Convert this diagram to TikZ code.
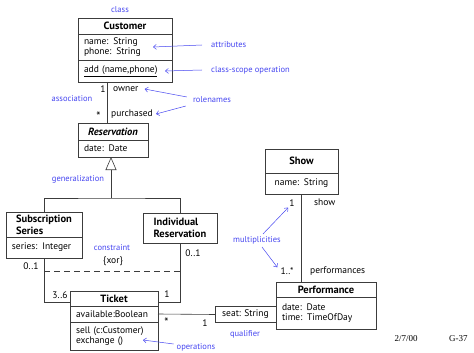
\documentclass[tikz,border=0pt]{standalone}
\usepackage{fontspec}
\setmainfont{PT Sans}
\newfontfamily\datefont{Liberation Serif}
\usetikzlibrary{positioning,arrows.meta,calc}
\definecolor{umlline}{RGB}{60,60,60}
\definecolor{noteblue}{RGB}{70,70,240}
\tikzset{
  cls/.style={outer sep=0pt, align=left, inner sep=0pt, anchor=north west, font=\bfseries\fontsize{10.5}{12}\selectfont},
  cmp/.style={outer sep=0pt, align=left, inner xsep=6pt, inner ysep=0pt, font=\fontsize{9.5}{10.5}\selectfont},
  frame/.style={draw=umlline, line width=0.6pt},
  conn/.style={draw=umlline, line width=0.6pt},
  lbl/.style={inner sep=0pt, font=\fontsize{9.5}{10}\selectfont},
  note/.style={inner sep=0pt, text=noteblue, font=\fontsize{8.5}{10}\selectfont},
  pointer/.style={-{Straight Barb[length=3pt,width=5pt]}, noteblue, line width=0.5pt}
}

\begin{document}
\begin{tikzpicture}[x=1pt, y=-1pt, node distance=0pt]
    \useasboundingbox (0,0) rectangle (474,353);
    % classes
    \node[cls, minimum width=94pt, minimum height=16pt, align=center] (cust) at (78,18) {Customer};
    \node[cmp, text width=82pt, minimum height=26pt, below=of cust] (custattr) {name: String\\phone: String};
    \node[cmp, text width=82pt, minimum height=22pt, below=of custattr] (custop) {\underline{add (name,phone)}};
    \node[cls, minimum width=70pt, minimum height=17pt, align=center] (resv) at (78,123) {\itshape Reservation};
    \node[cmp, text width=58pt, minimum height=17pt, below=of resv] (resvattr) {date: Date};
    \node[cls, minimum width=76pt, minimum height=25pt] (sub) at (6,212) {Subscription\\Series};
    \node[cmp, text width=64pt, minimum height=21pt, below=of sub] (subattr) {series: Integer};
    \node[cls, frame, minimum width=74pt, minimum height=30pt] (indiv) at (143,213) {Individual\\Reservation};
    \node[cls, minimum width=88pt, minimum height=15pt, align=center] (tkt) at (70,291) {Ticket};
    \node[cmp, text width=76pt, minimum height=16pt, below=of tkt] (tktattr) {available:Boolean};
    \node[cmp, text width=76pt, minimum height=28pt, below=of tktattr] (tktop) {sell (c:Customer)\\exchange ()};
    \node[cls, minimum width=73pt, minimum height=24pt, align=center] (show) at (265,149) {Show};
    \node[cmp, text width=61pt, minimum height=21pt, below=of show, align=center] (showattr) {name: String};
    \node[cls, minimum width=100pt, minimum height=15pt, align=center] (perf) at (276,282) {Performance};
    \node[cmp, text width=88pt, minimum height=32pt, below=of perf] (perfattr) {date: Date\\time: TimeOfDay};
    \node[cmp, minimum width=61pt, minimum height=16pt, left=of perfattr.west, anchor=east, yshift=-1.5pt] (qual) {seat: String};
    \draw[frame] (qual.north east) -- (qual.north west) -- (qual.south west) -- (qual.south east);
    % frames and compartment lines
    \foreach \top/\bot in {cust/custop, resv/resvattr, sub/subattr, tkt/tktop, show/showattr, perf/perfattr}
      \draw[frame] (\top.north west) rectangle (\bot.south east);
    \foreach \part in {custattr, custop, resvattr, subattr, tktattr, tktop, showattr, perfattr}
      \draw[frame] (\part.north west) -- (\part.north east);

    % associations
    \draw[conn] ([xshift=-18pt]custop.south) -- ([xshift=-6pt]resv.north);
    \coordinate (fork) at (111,198);
    \draw[conn] (sub.north) |- (fork) -| (indiv.north);
    \draw[conn, -{Triangle[open, length=13pt, width=11pt]}] (fork) -- ([xshift=-2pt]resvattr.south);
    \draw[conn] (subattr.south) |- ([yshift=-4pt]tkt.west);
    \draw[conn] (indiv.south) |- ([yshift=-4pt]tkt.east);
    \draw[conn, dashed, dash pattern=on 6pt off 4pt] ($(subattr.south)+(0,13)$) -- ($(indiv.south)+(0,28)$);
    \draw[conn] (tktattr.east) -- (qual.west);
    \draw[conn] (showattr.south) -- (showattr.south |- perf.north);

    % multiplicities and rolenames
    \node[lbl] (mcust) at (103,89) {1};
    \node[lbl, anchor=west] (owner) at (113,89) {owner};
    \node[lbl, font=\fontsize{12}{12}\selectfont] (mresv) at (98.5,116) {*};
    \node[lbl, anchor=west] (purch) at (111,114) {purchased};
    \node[lbl] (msub) at (31,266) {0..1};
    \node[lbl] (mindiv) at (193,253) {0..1};
    \node[lbl] (mtsub) at (60,295) {3..6};
    \node[lbl] (mtindiv) at (167,294) {1};
    \node[lbl, font=\fontsize{12}{12}\selectfont] (mtkt) at (166.5,322) {*};
    \node[lbl] (mqual) at (205,323) {1};
    \node[lbl] (xor) at (113,261) {\{xor\}};
    \node[lbl] (mshow) at (292,203) {1};
    \node[lbl, anchor=west] (rshow) at (314,202) {show};
    \node[lbl] (mperf) at (287,271) {1..*};
    \node[lbl, anchor=west] (rperf) at (310,271) {performances};

    % annotations
    \node[note] (ncls) at (120,10) {class};
    \node[note, anchor=west] (nattr) at (211,45) {attributes};
    \node[note, anchor=west] (nop) at (211,70) {class-scope operation};
    \node[note] (nassoc) at (72,99) {association};
    \node[note] (nrole) at (212,100) {rolenames};
    \node[note] (ngen) at (78,179) {generalization};
    \node[note] (ncons) at (112,248) {constraint};
    \node[note] (nmult) at (257,240) {multiplicities};
    \node[note] (nqual) at (245,334) {qualifier};
    \node[note] (nops) at (196,347) {operations};
    \draw[pointer] ([xshift=-9pt]nattr.west) -- ([xshift=-19pt]custattr.east);
    \draw[pointer] ([xshift=-9pt]nop.west) -- ([xshift=-7pt]custop.east);
    \draw[pointer] ([xshift=-6pt,yshift=3pt]nrole.west) -- ([xshift=6pt]owner.east);
    \draw[pointer] ([xshift=-7pt,yshift=-6pt]nrole.west) -- ([xshift=3pt]purch.east);
    \draw[pointer] ([xshift=6pt,yshift=2pt]nmult.north) -- ([xshift=-1pt,yshift=-1pt]mshow.south west);
    \draw[pointer] ([xshift=5pt,yshift=-3pt]nmult.south) -- ([xshift=-3pt]mperf.north west);
    \draw[pointer] ([xshift=-3pt,yshift=3pt]nops.west) -- ([xshift=-15pt,yshift=-4pt]tktop.east);

    % footer
    \node[inner sep=0pt, font=\datefont\fontsize{9}{10}\selectfont] (date) at (406,339) {2/7/00};
    \node[inner sep=0pt, anchor=west, font=\datefont\fontsize{9}{10}\selectfont] (page) at (449,339) {G-37};
\end{tikzpicture}
\end{document}
